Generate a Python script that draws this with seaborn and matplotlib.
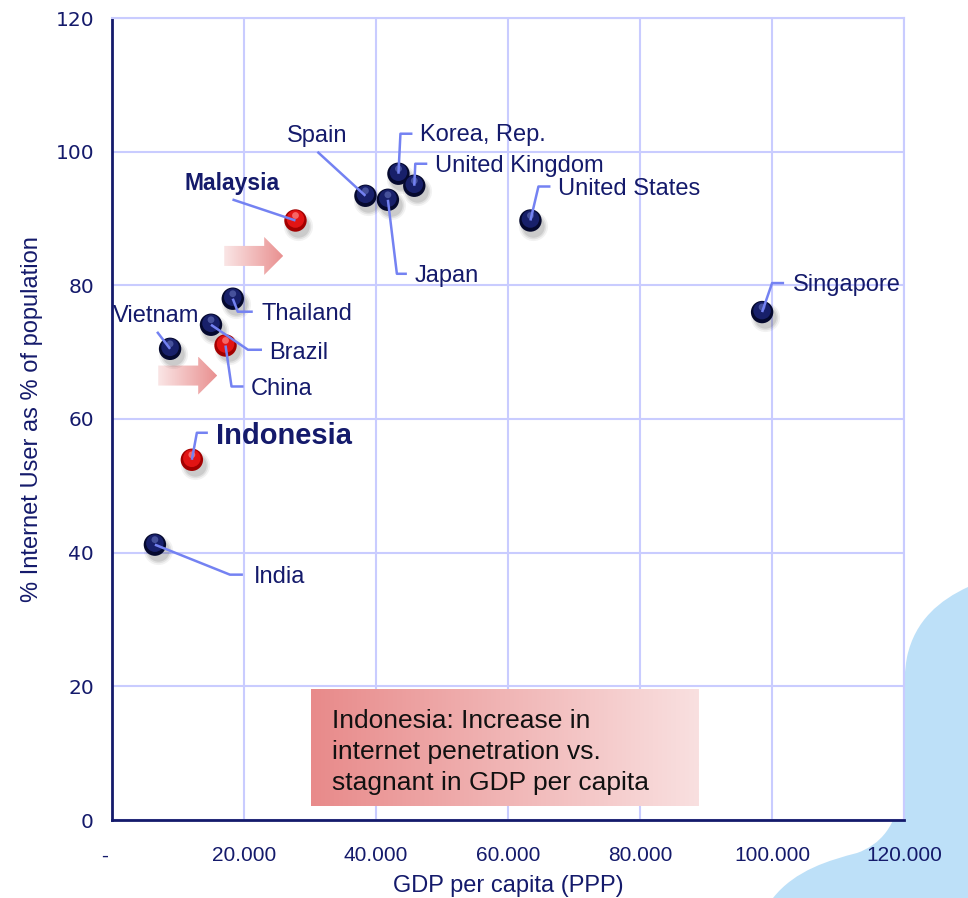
import numpy as np
import pandas as pd
import matplotlib
matplotlib.use("Agg")
import matplotlib.pyplot as plt
import seaborn as sns
import matplotlib.transforms as mtransforms
from matplotlib.colors import LinearSegmentedColormap
from matplotlib.patches import Polygon, PathPatch
from matplotlib.path import Path
from matplotlib.ticker import FuncFormatter

# ---- data ----
countries = ["India", "Indonesia", "Vietnam", "Brazil", "China", "Thailand", "Malaysia",
             "Spain", "Japan", "Korea, Rep.", "United Kingdom", "United States", "Singapore"]
gdp_ppp = [6500, 12100, 8800, 15000, 17200, 18300, 27800,
           38400, 41800, 43400, 45800, 63400, 98500]
internet_pct = [41.2, 53.9, 70.5, 74.1, 71.0, 78.0, 89.7,
                93.4, 92.8, 96.7, 94.9, 89.7, 76.0]
highlight = ["Indonesia", "Malaysia", "China"]

x_ticks = [0, 20000, 40000, 60000, 80000, 100000, 120000]
y_ticks = [0, 20, 40, 60, 80, 100, 120]

note_text = "Indonesia: Increase in\ninternet penetration vs.\nstagnant in GDP per capita"

NAVY = "#141a6b"
GRID = "#c9ccff"
LEADER = "#7482f2"

# leader line vertices and label position, pixel offsets from the point (dx right, dy down)
labels = {
    "India":          ([(75, 30), (88, 30)], (99, 32), "left", 17, "normal"),
    "Indonesia":      ([(5, -27), (16, -27)], (24, -24), "left", 21, "bold"),
    "Vietnam":        ([(-13, -17)], (-14, -33), "center", 17, "normal"),
    "Brazil":         ([(37, 25), (51, 25)], (58, 28), "left", 17, "normal"),
    "China":          ([(6, 41), (18, 41)], (25, 44), "left", 17, "normal"),
    "Thailand":       ([(5, 13), (20, 13)], (29, 15), "left", 17, "normal"),
    "Malaysia":       ([(-63, -21)], (-63, -37), "center", 16.5, "bold"),
    "Spain":          ([(-48, -44)], (-48, -60), "center", 17, "normal"),
    "Japan":          ([(9, 74), (19, 74)], (27, 76), "left", 17, "normal"),
    "Korea, Rep.":    ([(2, -40), (14, -40)], (22, -39), "left", 17, "normal"),
    "United Kingdom": ([(1, -22), (13, -22)], (21, -20), "left", 17, "normal"),
    "United States":  ([(8, -34), (20, -34)], (28, -32), "left", 17, "normal"),
    "Singapore":      ([(10, -29), (22, -29)], (31, -27), "left", 17, "normal"),
}

df = pd.DataFrame({"country": countries, "gdp": gdp_ppp, "internet": internet_pct})
df["group"] = np.where(df["country"].isin(highlight), "focus", "other")

sns.set_style("white")
plt.rcParams["font.family"] = ["Liberation Sans", "DejaVu Sans"]

fig = plt.figure(figsize=(9.68, 8.98), dpi=100)
fig.patch.set_facecolor("white")
ax = fig.add_axes([112 / 968, 78 / 898, 792 / 968, 802 / 898])

# light blue blob in the bottom-right corner
W, H = 968, 898
blob = [(773, 898),
        (795, 870), (830, 860), (857, 853),
        (880, 845), (898, 825), (900, 790),
        (904, 740), (901, 690), (907, 657),
        (915, 620), (940, 600), (968, 587),
        (968, 898), (773, 898)]
codes = [Path.MOVETO] + [Path.CURVE4] * 12 + [Path.LINETO, Path.CLOSEPOLY]
blob_path = Path([(x / W, 1 - y / H) for x, y in blob], codes)
fig.patches.append(PathPatch(blob_path, transform=fig.transFigure, facecolor="#bde0f8",
                             edgecolor="none", zorder=-1))

ax.set_xlim(0, 120000)
ax.set_ylim(0, 120)


def shifted(dx, dy):
    return mtransforms.offset_copy(ax.transData, fig=fig, x=dx, y=dy, units="dots")


# soft shadow under the spheres
for s, a in [(440, 0.05), (340, 0.07), (260, 0.09)]:
    ax.scatter(df["gdp"], df["internet"], s=s, color="black", alpha=a, linewidths=0,
               transform=shifted(3, -5), zorder=3)

sns.scatterplot(data=df, x="gdp", y="internet", hue="group",
                palette={"focus": "#a30000", "other": "#05092e"},
                s=260, linewidth=0, legend=False, ax=ax, zorder=4)

inner = df["group"].map({"focus": "#e21414", "other": "#18206a"})
ax.scatter(df["gdp"], df["internet"], s=160, c=inner, linewidths=0,
           transform=shifted(0, 1.5), zorder=5)
shine = df["group"].map({"focus": "#ff8a8a", "other": "#5a67b0"})
ax.scatter(df["gdp"], df["internet"], s=24, c=shine, alpha=0.7, linewidths=0,
           transform=shifted(0, 5), zorder=6)

# leader lines and labels
inv = ax.transData.inverted()
for _, row in df.iterrows():
    verts, tpos, ha, size, weight = labels[row["country"]]
    px, py = ax.transData.transform((row["gdp"], row["internet"]))
    pts = [(px, py)] + [(px + dx, py - dy) for dx, dy in verts]
    data_pts = inv.transform(pts)
    ax.plot(data_pts[:, 0], data_pts[:, 1], color=LEADER, lw=1.8, zorder=7,
            solid_capstyle="butt")
    ax.annotate(row["country"], xy=(row["gdp"], row["internet"]),
                xytext=(tpos[0], -tpos[1]), textcoords="offset pixels",
                ha=ha, va="center", fontsize=size, fontweight=weight, color=NAVY, zorder=8)


# pink gradient arrows
def gradient_arrow(x0, y0, c_left, c_right):
    sx, sy = ax.transData.transform((x0, y0))
    shape = [(0, -10), (40, -10), (40, -19), (59, 0), (40, 19), (40, 10), (0, 10)]
    pts = inv.transform([(sx + dx, sy + dy) for dx, dy in shape])
    poly = Polygon(pts, closed=True, facecolor="none", edgecolor="none")
    ax.add_patch(poly)
    cmap = LinearSegmentedColormap.from_list("arr", [c_left, c_right])
    im = ax.imshow(np.linspace(0, 1, 256)[None, :], cmap=cmap, aspect="auto",
                   extent=[pts[:, 0].min(), pts[:, 0].max(), pts[:, 1].min(), pts[:, 1].max()],
                   zorder=2)
    im.set_clip_path(poly)


gradient_arrow(17000, 84.4, "#fae6e6", "#e99090")
gradient_arrow(7000, 66.5, "#fae6e6", "#e99090")

# note box
box_cmap = LinearSegmentedColormap.from_list("box", ["#e88a8a", "#f9e0e0"])
ax.imshow(np.linspace(0, 1, 256)[None, :], cmap=box_cmap, aspect="auto",
          extent=[0.251, 0.740, 0.0175, 0.163], transform=ax.transAxes, zorder=1)
ax.text(0.278, 0.085, note_text, transform=ax.transAxes, ha="left", va="center",
        fontsize=19, color="#111111", linespacing=1.38, zorder=2)

ax.set_xlim(0, 120000)
ax.set_ylim(0, 120)
ax.set_xticks(x_ticks)
ax.set_yticks(y_ticks)
ax.xaxis.set_major_formatter(FuncFormatter(lambda v, p: "-" if v == 0 else f"{int(v):,}".replace(",", ".")))
ax.grid(True, color=GRID, lw=1.5, zorder=0)
ax.set_axisbelow(True)

for side in ["left", "bottom"]:
    ax.spines[side].set_color(NAVY)
    ax.spines[side].set_linewidth(2)
for side in ["top", "right"]:
    ax.spines[side].set_color(GRID)
    ax.spines[side].set_linewidth(1.5)

ax.tick_params(axis="both", length=0, colors=NAVY)
ax.tick_params(axis="x", pad=19, labelsize=15)
ax.tick_params(axis="y", pad=13, labelsize=14.5)
for t in ax.get_yticklabels():
    t.set_fontfamily("DejaVu Sans")
# the "-" for zero sits a little left of the axis
dash = ax.get_xticklabels()[0]
dash.set_transform(dash.get_transform() + mtransforms.ScaledTranslation(-7 / 100, 0, fig.dpi_scale_trans))

ax.set_xlabel("GDP per capita (PPP)", fontsize=17, color=NAVY, labelpad=7)
ax.set_ylabel("% Internet User as % of population", fontsize=17, color=NAVY, labelpad=9)

fig.savefig("out.png", dpi=100)
